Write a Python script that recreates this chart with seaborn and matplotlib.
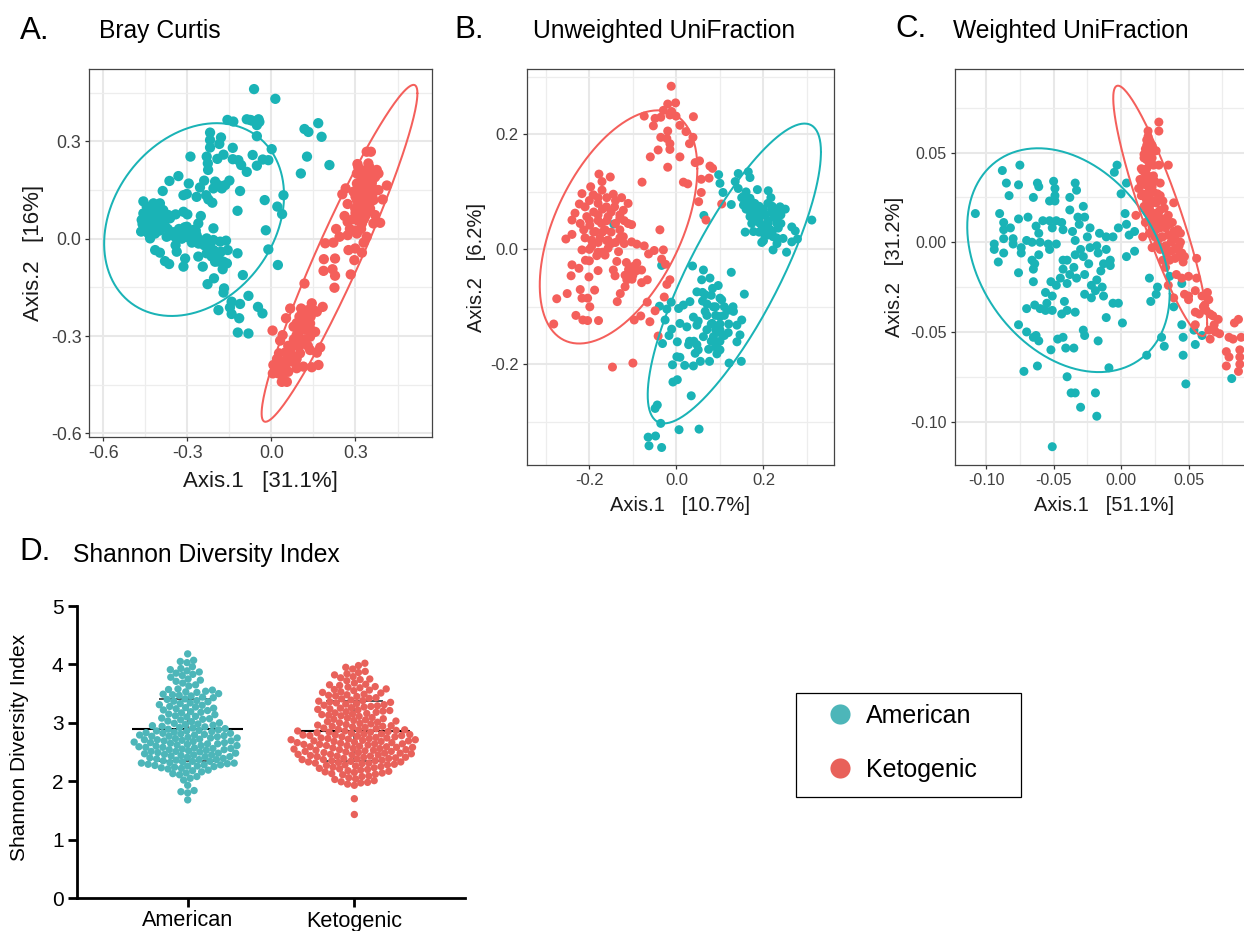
import numpy as np
import pandas as pd
import matplotlib
matplotlib.use("Agg")
import matplotlib.pyplot as plt
from matplotlib.lines import Line2D
from matplotlib.patches import Rectangle
import seaborn as sns

W, H = 1244, 931
TEAL, RED = "#1AB3B6", "#F45F5B"
TEAL_D, RED_D = "#4DB6B9", "#E8615A"
GROUPS = ["American", "Ketogenic"]

a_teal_x = [-.062,.014,-.157,-.136,-.088,-.070,-.046,-.052,-.043,-.076,-.052,.001,.118,.132,.167,.179,.127,.207,.105,-.219,-.219,-.219,-.180,-.186,-.138,-.289,-.231,-.227,-.226,-.193,-.171,-.138,-.118,-.108,-.088,-.067,-.052,-.031,-.011,-.332,-.364,-.388,-.295,-.255,-.240,-.201,-.207,-.177,-.150,-.165,-.189,-.112,.043,-.024,.021,.038,-.121,-.314,-.302,-.267,-.233,-.225,-.211,-.457,-.421,-.398,-.445,-.415,-.386,-.457,-.433,-.403,-.368,-.463,-.439,-.415,-.392,-.362,-.451,-.427,-.403,-.465,-.439,-.415,-.433,-.342,-.314,-.300,-.252,-.261,-.302,-.326,-.278,-.296,-.267,-.362,-.344,-.374,-.314,-.207,-.284,-.255,-.231,-.207,-.183,-.162,-.342,-.338,-.415,-.398,-.380,-.365,-.308,-.314,-.261,-.245,-.231,-.207,-.213,-.189,-.201,-.156,-.121,-.171,-.159,-.174,-.011,-.020,.023,-.102,-.205,-.228,-.169,-.171,-.082,-.142,-.112,-.148,-.189,-.142,-.115,-.048,-.032,-.120,-.082]
a_teal_y = [.461,.431,.366,.361,.368,.364,.368,.350,.360,.366,.316,.276,.338,.329,.356,.314,.253,.227,.201,.327,.304,.281,.312,.292,.280,.253,.253,.232,.212,.246,.259,.245,.242,.227,.206,.258,.225,.244,.242,.193,.178,.147,.170,.158,.179,.176,.155,.155,.179,.165,.165,.147,.134,.119,.099,.076,.086,.134,.138,.129,.134,.121,.111,.115,.109,.109,.099,.093,.088,.078,.078,.078,.073,.058,.058,.058,.058,.063,.037,.037,.037,.022,.016,.016,.001,.075,.083,.075,.070,.047,.037,.022,.027,.011,.011,.011,.006,.006,.006,.032,-.012,-.004,.001,-.004,-.009,-.006,-.020,-.040,-.035,-.043,-.069,-.078,-.061,-.086,-.055,-.086,-.045,-.035,-.055,-.055,-.071,-.035,-.045,-.071,-.076,-.094,-.033,.026,-.081,-.112,-.122,-.140,-.153,-.166,-.176,-.194,-.201,-.212,-.220,-.232,-.245,-.210,-.230,-.289,-.292]
a_teal_extra = [(-.44,.09),(-.43,.10),(-.42,.08),(-.41,.09),(-.40,.10),(-.45,.07),(-.44,.07),(-.42,.065),(-.41,.07),(-.39,.07),(-.46,.045),(-.44,.045),(-.43,.05),(-.41,.045),(-.40,.045),(-.38,.04),(-.45,.025),(-.43,.025),(-.42,.03),(-.40,.025),(-.37,.03),(-.35,.02),(-.33,.03),(-.31,.035),(-.29,.02),(-.27,.025),(-.30,.005),(-.28,.0),(-.32,.0),(-.26,-.015),(-.24,-.02),(-.22,-.02),(-.20,-.04),(-.19,-.07),(-.18,-.04)]
a_red_x = [.340,.355,.307,.346,.376,.305,.329,.352,.382,.412,.265,.253,.305,.329,.358,.382,.293,.323,.352,.397,.272,.305,.334,.364,.299,.329,.352,.261,.305,.334,.370,.272,.323,.364,.388,.231,.272,.305,.340,.243,.192,.221,.329,.275,.299,.323,.187,.227,.296,.186,.218,.227,.283,.118,.225,.144,.183,.106,.067,.162,.126,.052,.102,.138,.079,.120,.156,.004,.040,.090,.138,.031,.108,.174,.138,.027,.067,.102,.162,.055,.085,.007,.114,.168,.144,.025,.060,.005,.037,.055,.090]
a_red_y = [.268,.268,.230,.232,.212,.201,.196,.196,.201,.164,.155,.137,.170,.170,.170,.150,.145,.145,.145,.121,.107,.119,.119,.119,.093,.093,.093,.070,.070,.068,.073,.052,.047,.047,.049,.030,.011,.016,.006,.006,-.014,-.012,-.012,-.035,-.030,-.043,-.063,-.061,-.066,-.099,-.094,-.114,-.110,-.138,-.151,-.199,-.210,-.215,-.215,-.225,-.230,-.245,-.251,-.261,-.271,-.276,-.287,-.283,-.297,-.297,-.302,-.314,-.322,-.335,-.343,-.353,-.348,-.353,-.351,-.374,-.379,-.389,-.394,-.389,-.396,-.415,-.410,-.415,-.441,-.441,-.399]
a_red_extra = [(.31,.22),(.33,.21),(.35,.22),(.37,.19),(.32,.18),(.34,.185),(.36,.18),(.31,.16),(.33,.155),(.35,.16),(.37,.15),(.30,.13),(.32,.13),(.34,.135),(.36,.13),(.31,.105),(.33,.105),(.35,.11),(.30,.08),(.32,.08),(.34,.08),(.29,.06),(.31,.055),(.33,.06),(.28,.03),(.30,.025),(.32,.03),(.11,-.22),(.13,-.22),(.15,-.22),(.10,-.24),(.12,-.24),(.14,-.24),(.09,-.26),(.11,-.26),(.13,-.26),(.10,-.285),(.12,-.28),(.14,-.28),(.08,-.31),(.10,-.31),(.12,-.31),(.06,-.33),(.08,-.33),(.10,-.33),(.13,-.33),(.05,-.35),(.07,-.36),(.09,-.37),(.04,-.38),(.06,-.38),(.08,-.38),(.03,-.40),(.05,-.40),(.02,-.37),(.04,-.425)]

b_red_x = [-.012,-.020,-.002,-.030,-.074,-.053,-.049,-.036,-.015,-.001,-.011,.039,.008,.022,.038,.030,-.020,-.036,-.022,-.015,-.015,-.042,-.060,.008,-.020,.043,.053,.077,.083,.057,.075,-.079,.016,.026,.057,.051,.104,.068,-.178,-.152,-.171,-.197,-.171,-.217,-.191,-.145,-.126,-.111,-.223,-.210,-.180,-.161,-.142,-.122,-.233,-.206,-.180,-.157,-.130,-.240,-.221,-.199,-.172,-.111,-.103,-.213,-.186,-.164,-.130,-.240,-.254,-.195,-.176,-.157,-.122,-.038,-.103,-.091,-.195,-.157,-.133,-.217,-.183,-.164,-.074,-.064,-.051,-.030,-.034,-.025,-.209,-.200,-.240,-.224,-.180,-.137,-.115,-.091,-.145,-.091,-.080,-.242,-.201,-.141,-.118,-.102,-.080,-.067,-.114,-.118,-.015,-.022,-.221,-.188,-.251,-.275,-.217,-.204,-.129,-.136,-.199,-.067,-.028,-.049,-.231,-.215,-.204,-.179,-.097,-.082,-.061,-.282,-.042,-.147,-.100]
b_red_y = [.284,.253,.255,.242,.232,.215,.228,.230,.234,.232,.240,.231,.216,.205,.195,.184,.206,.195,.193,.184,.174,.173,.161,.161,.143,.151,.154,.145,.141,.122,.124,.117,.117,.114,.099,.083,.079,.051,.131,.126,.118,.109,.103,.097,.095,.096,.090,.080,.079,.074,.080,.074,.074,.068,.063,.057,.060,.057,.054,.051,.045,.042,.045,.045,.043,.034,.031,.034,.034,.026,.018,.016,.019,.016,.022,.034,.013,.009,.005,.002,-.004,-.001,-.011,-.010,.006,-.008,-.002,-.001,-.017,-.026,-.019,-.020,-.027,-.033,-.037,-.021,-.023,-.024,-.036,-.037,-.036,-.046,-.048,-.046,-.045,-.052,-.058,-.053,-.053,-.065,-.053,-.061,-.070,-.071,-.077,-.086,-.085,-.085,-.077,-.091,-.100,-.092,-.083,-.107,-.115,-.123,-.124,-.124,-.123,-.116,-.126,-.130,-.151,-.205,-.198]
b_red_extra = [(-.20,.085),(-.18,.09),(-.16,.09),(-.14,.085),(-.19,.065),(-.17,.07),(-.15,.065),(-.13,.06),(-.20,.05),(-.18,.05),(-.16,.05),(-.14,.045),(-.12,.05),(-.19,.03),(-.17,.03),(-.15,.03),(-.13,.02),(-.21,.02),(-.18,.012),(-.16,.015),(-.14,.012),(-.12,.01),(-.20,.0),(-.18,-.005),(-.17,-.005),(-.15,.01),(-.11,-.035),(-.10,-.03),(-.10,-.045)]
b_teal_x = [-.144,-.034,.097,.100,.107,.126,.063,.142,.165,.169,.135,.142,.186,.211,.217,.154,.169,.154,.173,.190,.238,.219,.231,.169,.190,.205,.224,.311,.173,.192,.211,.231,.196,.216,.234,.265,.273,.158,.177,.203,.222,.245,.196,.231,.265,.278,.222,.253,.037,.126,.062,.058,.077,.096,.083,.047,.066,.156,.104,.031,.016,.005,-.012,-.039,-.022,.085,.119,.131,.066,.039,.100,.150,.139,-.026,.008,.024,.047,.082,-.011,.100,.119,.146,.062,.085,-.017,-.032,.002,.139,.028,.047,.093,.043,.074,.093,.001,.008,-.009,.019,.039,.055,.076,.121,.149,-.008,.002,.034,-.044,-.049,-.036,.006,.052,-.065,-.048,-.063,-.034]
b_teal_y = [.044,-.028,.130,.115,.099,.078,.059,.132,.135,.125,.118,.106,.104,.102,.090,.092,.089,.077,.074,.071,.074,.068,.068,.057,.057,.060,.057,.051,.045,.045,.045,.045,.034,.034,.037,.039,.032,.030,.031,.025,.022,.019,.012,.010,.013,.018,-.001,-.005,-.029,-.040,-.036,-.053,-.050,-.063,-.068,-.074,-.079,-.078,-.088,-.091,-.097,-.103,-.092,-.099,-.104,-.100,-.106,-.108,-.108,-.118,-.117,-.123,-.132,-.123,-.129,-.135,-.132,-.129,-.139,-.140,-.145,-.149,-.152,-.152,-.150,-.164,-.161,-.161,-.166,-.166,-.164,-.181,-.174,-.182,-.187,-.188,-.201,-.202,-.203,-.195,-.195,-.198,-.195,-.231,-.227,-.255,-.271,-.277,-.303,-.314,-.313,-.327,-.325,-.342,-.345]
b_teal_extra = [(.17,.085),(.18,.08),(.19,.075),(.20,.07),(.21,.08),(.22,.075),(.16,.07),(.18,.065),(.20,.06),(.22,.065),(.24,.06),(.25,.07),(.18,.05),(.19,.055),(.21,.05),(.23,.05),(.24,.045),(.20,.04),(.21,.025),(.22,.03),(.23,.02),(.19,.03),(.20,.015),(.15,.09),(.16,.10),(.16,.08),(.17,.065),(.18,.055),(.06,-.075),(.08,-.08),(.10,-.085),(.07,-.095),(.09,-.10),(.11,-.10),(.13,-.10),(.07,-.115),(.09,-.115),(.11,-.115),(.08,-.13),(.10,-.13),(.12,-.13),(.05,-.125),(.07,-.14),(.09,-.14),(.10,-.145),(.11,-.15),(.10,-.16),(.08,-.16),(.09,-.17),(.10,-.175),(.06,-.09),(.04,-.16),(.03,-.16),(.05,-.175)]

c_teal_x = [-.108,-.088,-.075,-.085,-.076,-.083,-.062,-.061,-.065,-.050,-.049,-.049,-.053,-.049,-.034,-.033,-.038,-.028,-.038,-.090,-.076,-.069,-.032,-.027,-.031,-.087,-.087,-.087,-.082,-.063,-.058,-.053,-.048,-.044,-.061,-.051,-.043,-.036,-.023,-.016,-.006,-.011,-.025,-.034,-.080,-.070,-.066,-.060,-.054,-.048,-.053,-.094,-.094,-.087,-.080,-.074,-.074,-.091,-.061,-.066,-.064,-.065,-.076,-.065,-.043,-.040,-.034,-.030,-.028,-.024,-.023,-.018,-.017,-.011,-.013,-.008,-.008,-.015,-.043,-.035,-.038,-.033,-.027,-.052,-.045,-.048,-.040,-.018,-.022,-.014,-.019,-.027,-.022,-.013,-.006,-.002,-.056,-.051,-.055,-.070,-.064,-.060,-.056,-.051,-.042,-.044,-.040,-.034,-.011,.001,-.076,-.070,-.063,-.065,-.061,-.047,-.043,-.041,-.035,-.028,-.027,-.017,-.052,-.072,-.062,-.040,-.009,-.037,-.034,-.019,-.030,-.018,-.051,-.003,-.005,.004,.000,.003,.004,-.002,.006,.010,.010,.004,.021,.027,.026,.022,.039,.045,.046,.032,.030,.019,.046,.055,.054,.060,.048,.082,.036,.045]
c_teal_y = [.016,.040,.043,.033,.032,.026,.033,.031,.025,.034,.030,.026,.023,.023,.033,.029,.025,.020,.018,.016,.013,.014,.014,.014,.010,.011,.007,.002,.008,.009,.012,.012,.012,.011,.005,.008,.007,.006,.008,.005,.003,.003,.003,.001,.002,.001,.000,.000,-.001,-.001,-.004,-.001,-.004,-.006,-.001,-.003,-.006,-.011,-.007,-.010,-.012,-.015,-.017,-.022,-.010,-.010,-.007,-.004,-.008,-.012,-.003,-.002,-.006,-.004,-.012,-.010,-.013,-.016,-.015,-.014,-.018,-.020,-.018,-.022,-.020,-.024,-.023,-.021,-.024,-.025,-.027,-.029,-.031,-.030,-.034,-.034,-.028,-.030,-.034,-.037,-.035,-.037,-.038,-.038,-.033,-.040,-.038,-.039,-.042,-.045,-.046,-.050,-.052,-.053,-.055,-.054,-.053,-.059,-.059,-.049,-.052,-.055,-.060,-.072,-.069,-.075,-.070,-.084,-.084,-.084,-.092,-.097,-.114,.043,.039,.033,.027,.016,.010,.008,.004,.006,-.005,-.008,-.020,-.025,-.029,-.033,-.036,-.046,-.053,-.058,-.053,-.063,-.063,-.057,-.049,-.052,-.079,-.076,-.019,-.023]
c_red_x = [.028,.028,.020,.019,.023,.018,.022,.026,.017,.022,.015,.019,.028,.035,.014,.019,.024,.029,.013,.018,.023,.015,.021,.029,.019,.025,.031,.039,.021,.029,.011,.035,.025,.031,.018,.038,.026,.033,.044,.016,.021,.030,.038,.044,.023,.029,.041,.044,.056,.046,.031,.033,.041,.045,.050,.056,.035,.039,.055,.047,.050,.064,.065,.061,.055,.063,.068,.072,.055,.069,.065,.069,.073,.066,.087,.084,.080,.083,.089,.078,.080,.078,.088,.088,.088,.087]
c_red_y = [.067,.062,.062,.057,.054,.052,.050,.051,.047,.046,.041,.041,.043,.043,.035,.037,.037,.033,.030,.032,.031,.026,.026,.026,.023,.023,.023,.022,.019,.018,.015,.015,.014,.013,.011,.011,.010,.008,.005,.003,.005,.003,.002,.000,-.003,-.004,-.003,-.006,-.009,-.011,-.010,-.014,-.018,-.020,-.019,-.020,-.024,-.031,-.027,-.029,-.032,-.028,-.032,-.036,-.039,-.038,-.041,-.043,-.046,-.046,-.049,-.049,-.051,-.054,-.043,-.045,-.053,-.054,-.053,-.061,-.064,-.069,-.060,-.064,-.068,-.072]
c_red_extra = [(.020,.059),(.021,.056),(.022,.053),(.019,.054),(.021,.050),(.023,.047),(.017,.049),(.019,.046),(.021,.044),(.024,.043),(.016,.040),(.018,.038),(.020,.037),(.022,.035),(.025,.034),(.015,.033),(.017,.034),(.019,.032),(.021,.029),(.024,.028),(.027,.027),(.016,.027),(.018,.025),(.020,.023),(.023,.022),(.026,.022),(.017,.020),(.019,.017),(.022,.017),(.025,.016),(.028,.017),(.032,.019),(.021,.013),(.024,.011),(.027,.012),(.030,.013),(.034,.012),(.023,.008),(.026,.007),(.029,.008),(.032,.009),(.036,.010),(.025,.003),(.028,.002),(.031,.003),(.035,.004),(.039,.006),(.042,.007),(.027,-.001),(.030,-.003),(.033,-.002),(.037,.000),(.040,.002),(.034,-.006),(.037,-.005),(.040,-.004),(.043,-.002),(.036,-.010),(.040,-.009),(.043,-.008),(.045,-.006),(.047,-.008),(.060,-.030),(.062,-.035),(.066,-.040),(.070,-.050),(.058,-.040),(.050,-.030)]

american = [1.68,1.80,1.82,1.84,1.93,2.02,2.05,2.08,2.11,2.13,2.14,2.16,2.18,2.19,2.21,2.22,2.23,2.24,2.25,2.26,2.26,2.27,2.28,2.28,2.29,2.30,2.31,2.31,2.32,2.33,2.34,2.34,2.35,2.36,2.37,2.37,2.38,2.39,2.40,2.41,2.42,2.42,2.43,2.44,2.45,2.45,2.46,2.47,2.48,2.48,2.49,2.50,2.51,2.51,2.52,2.53,2.54,2.54,2.55,2.56,2.56,2.57,2.58,2.58,2.59,2.60,2.61,2.61,2.62,2.63,2.64,2.64,2.65,2.66,2.66,2.67,2.68,2.69,2.69,2.70,2.71,2.71,2.72,2.73,2.74,2.74,2.75,2.76,2.77,2.77,2.78,2.79,2.79,2.80,2.81,2.82,2.82,2.83,2.84,2.85,2.86,2.86,2.87,2.88,2.89,2.90,2.91,2.92,2.93,2.94,2.95,2.96,2.97,2.98,2.99,3.00,3.02,3.03,3.05,3.06,3.07,3.08,3.10,3.11,3.12,3.14,3.15,3.17,3.18,3.19,3.21,3.22,3.24,3.25,3.26,3.27,3.28,3.30,3.31,3.33,3.34,3.36,3.37,3.38,3.40,3.41,3.43,3.44,3.46,3.47,3.48,3.49,3.50,3.52,3.53,3.54,3.56,3.57,3.58,3.63,3.65,3.68,3.71,3.73,3.75,3.78,3.81,3.83,3.85,3.87,3.89,3.91,3.93,3.96,4.03,4.05,4.07,4.18]
ketogenic = [1.43,1.70,1.93,1.95,1.97,1.98,1.99,2.01,2.03,2.04,2.06,2.08,2.09,2.11,2.12,2.13,2.14,2.15,2.16,2.17,2.18,2.19,2.20,2.21,2.22,2.23,2.24,2.25,2.26,2.27,2.28,2.28,2.29,2.30,2.31,2.31,2.32,2.33,2.33,2.34,2.35,2.35,2.36,2.37,2.37,2.38,2.39,2.39,2.40,2.41,2.41,2.42,2.43,2.43,2.44,2.45,2.45,2.46,2.46,2.47,2.48,2.48,2.49,2.49,2.50,2.51,2.51,2.52,2.53,2.53,2.54,2.54,2.55,2.56,2.56,2.57,2.58,2.58,2.59,2.59,2.60,2.61,2.61,2.62,2.63,2.63,2.64,2.64,2.65,2.66,2.66,2.67,2.68,2.68,2.69,2.69,2.70,2.71,2.71,2.72,2.73,2.73,2.74,2.74,2.75,2.76,2.76,2.77,2.78,2.78,2.79,2.79,2.80,2.81,2.81,2.82,2.83,2.84,2.84,2.85,2.86,2.86,2.87,2.88,2.88,2.89,2.90,2.91,2.92,2.93,2.94,2.94,2.95,2.96,2.97,2.98,2.99,3.00,3.01,3.02,3.03,3.04,3.05,3.06,3.07,3.08,3.09,3.11,3.12,3.13,3.14,3.15,3.16,3.17,3.18,3.19,3.20,3.21,3.22,3.23,3.24,3.25,3.26,3.27,3.28,3.29,3.30,3.31,3.32,3.33,3.34,3.35,3.36,3.37,3.38,3.39,3.41,3.42,3.43,3.45,3.46,3.47,3.48,3.49,3.51,3.52,3.53,3.55,3.56,3.57,3.58,3.60,3.61,3.62,3.64,3.65,3.66,3.68,3.72,3.74,3.75,3.77,3.79,3.82,3.84,3.86,3.88,3.92,3.95,3.98,4.02]

shannon_mean = [2.89, 2.857]
shannon_sd_lo = [2.35, 2.35]
shannon_sd_hi = [3.40, 3.37]

# ellipse summaries: centre x, centre y, half-range x, half-range y, correlation
ell_a = {"t": (-.276, .059, .321, .297, .25), "r": (.243, -.045, .278, .519, .95)}
ell_b = {"t": (.133, -.042, .199, .261, .81), "r": (-.133, .039, .181, .203, .50)}
ell_c = {"t": (-.039, -.010, .075, .0624, -.30), "r": (.029, .0175, .0348, .0698, -.90)}

sns.set_theme(style="white")
plt.rcParams["font.family"] = ["Liberation Sans", "DejaVu Sans"]
plt.rcParams["axes.unicode_minus"] = False

fig = plt.figure(figsize=(W / 100, H / 100), dpi=100, facecolor="white")

def make_axes(x0, x1, y0, y1):
    return fig.add_axes([x0 / W, 1 - y1 / H, (x1 - x0) / W, (y1 - y0) / H])

def ellipse(ax, p, color):
    cx, cy, ax_, ay, rho = p
    t = np.linspace(0, 2 * np.pi, 240)
    d = np.arccos(rho)
    ax.plot(cx + ax_ * np.cos(t), cy + ay * np.cos(t - d), color=color, lw=1.45, zorder=4)

def pcoa(ax, tx, ty, te, rx, ry, re, ell, size, xlim, ylim, xticks, yticks, xminor, yminor,
         xfmt, yfmt, xlab, ylab, xc, yc, lab_fs, tick_fs):
    tx = tx + [p[0] for p in te]
    ty = ty + [p[1] for p in te]
    rx = rx + [p[0] for p in re]
    ry = ry + [p[1] for p in re]
    df = pd.DataFrame({"x": tx + rx, "y": ty + ry,
                       "group": ["American"] * len(tx) + ["Ketogenic"] * len(rx)})
    sns.scatterplot(data=df, x="x", y="y", hue="group", palette=[TEAL, RED], hue_order=GROUPS,
                    s=size, linewidth=0, alpha=1, legend=False, ax=ax, zorder=3, clip_on=True)
    ellipse(ax, ell["t"], TEAL)
    ellipse(ax, ell["r"], RED)
    ax.set_xlim(*xlim)
    ax.set_ylim(*ylim)
    ax.set_xticks(xticks, [xfmt % v for v in xticks])
    ax.set_yticks(yticks, [yfmt % v for v in yticks])
    ax.set_xticks(xminor, minor=True)
    ax.set_yticks(yminor, minor=True)
    ax.grid(True, which="major", color="#E8E8E8", lw=1.5, zorder=0)
    ax.grid(True, which="minor", color="#EDEDED", lw=0.9, zorder=0)
    ax.set_axisbelow(True)
    ax.tick_params(which="major", length=3.2, width=0.9, color="#333333",
                   labelcolor="#404040", labelsize=tick_fs, pad=2.5, bottom=True, left=True)
    ax.tick_params(which="minor", length=0)
    for s in ax.spines.values():
        s.set_color("#444444")
        s.set_linewidth(0.9)
    ax.set_xlabel(xlab, fontsize=lab_fs, color="#1a1a1a")
    ax.set_ylabel(ylab, fontsize=lab_fs, color="#1a1a1a")
    ax.xaxis.set_label_coords(*xc)
    ax.yaxis.set_label_coords(*yc)

ax_a = make_axes(89.3, 431.7, 69.3, 436.7)
pcoa(ax_a, a_teal_x, a_teal_y, a_teal_extra, a_red_x, a_red_y, a_red_extra, ell_a, 55,
     (-.650, .572), (-.610, .522),
     [-.6, -.3, 0, .3], [-.6, -.3, 0, .3], [-.45, -.15, .15, .45], [-.45, -.15, .15, .45],
     "%.1f", "%.1f", "Axis.1   [31.1%]", "Axis.2   [16%]", (.5, -.093), (-.132, .5), 16, 12.8)

ax_b = make_axes(526.7, 834, 69, 465.3)
pcoa(ax_b, b_teal_x, b_teal_y, b_teal_extra, b_red_x, b_red_y, b_red_extra, ell_b, 42,
     (-.344, .362), (-.376, .314),
     [-.2, 0, .2], [-.2, 0, .2], [-.3, -.1, .1, .3], [-.3, -.1, .1, .3],
     "%.1f", "%.1f", "Axis.1   [10.7%]", "Axis.2   [6.2%]", (.5, -.078), (-.132, .5), 14.5, 12)

ax_c = make_axes(954.7, 1244, 69, 465)
pcoa(ax_c, c_teal_x, c_teal_y, [], c_red_x, c_red_y, c_red_extra, ell_c, 42,
     (-.1233, .0911), (-.1242, .0966),
     [-.10, -.05, 0, .05], [-.10, -.05, 0, .05], [-.075, -.025, .025, .075],
     [-.075, -.025, .025, .075], "%.2f", "%.2f", "Axis.1   [51.1%]", "Axis.2   [31.2%]",
     (.516, -.078), (-.176, .5), 14.5, 11.5)
ax_c.spines["right"].set_visible(False)

# Panel D
ax_d = make_axes(76.7, 465, 606, 898)
df_d = pd.DataFrame({"diet": ["American"] * len(american) + ["Ketogenic"] * len(ketogenic),
                     "shannon": american + ketogenic})
for i in range(2):
    ax_d.hlines(shannon_mean[i], i - .332, i + .332, color="black", lw=1.5, zorder=1)
    ax_d.vlines(i, shannon_sd_lo[i], shannon_sd_hi[i], color="#555555", lw=1.2, zorder=1)
    ax_d.hlines([shannon_sd_lo[i], shannon_sd_hi[i]], i - .17, i + .17, color="#333333", lw=1.2, zorder=1)
sns.swarmplot(data=df_d, x="diet", y="shannon", hue="diet", palette=[TEAL_D, RED_D],
              hue_order=GROUPS, order=GROUPS, size=4.7, linewidth=0, legend=False,
              ax=ax_d, zorder=3, warn_thresh=1)
ax_d.set_xlim(-.666, 1.664)
ax_d.set_ylim(0, 5)
ax_d.set_yticks(range(6))
ax_d.set_xlabel("")
ax_d.set_ylabel("Shannon Diversity Index", fontsize=15, color="black")
ax_d.yaxis.set_label_coords(-.123, .517)
ax_d.tick_params(axis="both", length=6.5, width=2, color="black", labelcolor="black",
                 left=True, bottom=True)
ax_d.tick_params(axis="y", labelsize=15, pad=3)
ax_d.tick_params(axis="x", labelsize=15.6, pad=2.5)
sns.despine(ax=ax_d)
for s in ("left", "bottom"):
    ax_d.spines[s].set_linewidth(2)
    ax_d.spines[s].set_color("black")

# Swarm positions are laid out at draw time from the marker size: lay them out
# tightly once, keep those positions, then enlarge the markers so they overlap.
fig.canvas.draw()
for coll in ax_d.collections:
    if len(coll.get_offsets()) > 5:
        if "draw" in coll.__dict__:
            del coll.__dict__["draw"]
        coll.set_sizes([28])

# Panel letters and titles
for txt, x, y in [("A.", 20, 31), ("B.", 454, 30), ("C.", 895, 29), ("D.", 19, 552)]:
    fig.text(x / W, 1 - y / H, txt, fontsize=22.5, va="center", ha="left", color="black")
for txt, x, y in [("Bray Curtis", 99, 31), ("Unweighted UniFraction", 533, 31),
                  ("Weighted UniFraction", 953, 31), ("Shannon Diversity Index", 73, 555)]:
    fig.text(x / W, 1 - y / H, txt, fontsize=17.7, va="center", ha="left", color="black")

# Legend box
fig.add_artist(Rectangle((796 / W, 1 - 796.5 / H), 225 / W, 103.5 / H, transform=fig.transFigure,
                         facecolor="white", edgecolor="black", lw=0.9))
for lab, col, y in zip(GROUPS, [TEAL_D, RED_D], [714, 768]):
    fig.add_artist(Line2D([840 / W], [1 - y / H], ls="", marker="o", ms=14.5, mfc=col, mec="none",
                          transform=fig.transFigure))
    fig.text(866 / W, 1 - (y + 2) / H, lab, fontsize=18, va="center", ha="left", color="black")

fig.savefig("out.png", dpi=100, facecolor="white")
